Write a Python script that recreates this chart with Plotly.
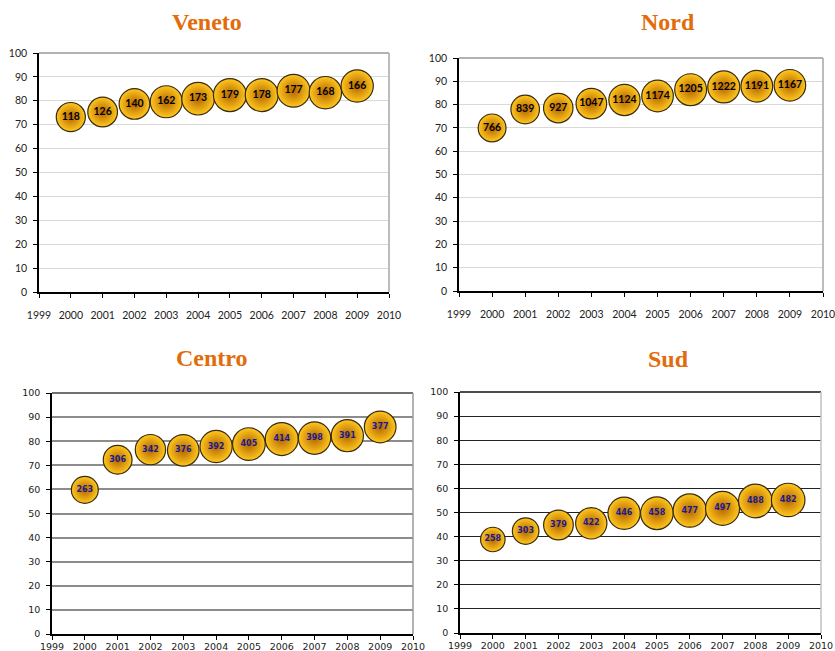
import plotly.graph_objects as go

# Years on the x axis (shared by all four panels)
years = [2000, 2001, 2002, 2003, 2004, 2005, 2006, 2007, 2008, 2009]

# Percentage values (bubble position) and counts (bubble size / label) per area
veneto_pct = [73.2, 75.3, 78.7, 79.6, 80.9, 82.4, 82.4, 84.2, 83.4, 86.2]
veneto_n = [118, 126, 140, 162, 173, 179, 178, 177, 168, 166]

nord_pct = [70.0, 77.9, 78.5, 80.4, 82.0, 83.7, 86.4, 87.6, 87.9, 88.3]
nord_n = [766, 839, 927, 1047, 1124, 1174, 1205, 1222, 1191, 1167]

centro_pct = [59.8, 72.3, 76.5, 76.2, 77.8, 78.8, 80.9, 81.3, 82.3, 85.9]
centro_n = [263, 306, 342, 376, 392, 405, 414, 398, 391, 377]

sud_pct = [38.8, 42.3, 44.8, 45.5, 49.7, 49.7, 50.8, 51.7, 54.8, 55.2]
sud_n = [258, 303, 379, 422, 446, 458, 477, 497, 488, 482]

W, H = 835, 651
TITLE_COLOR = "#E36C0A"

# name, pct, counts, plot box in px (left, right, top, bottom), style, title pos
panels = [
    dict(name="Veneto", pct=veneto_pct, n=veneto_n, box=(39, 389, 53, 292),
         style="light", title=(207, 22), dmax=33, power=0.3),
    dict(name="Nord", pct=nord_pct, n=nord_n, box=(459, 823, 58, 291),
         style="light", title=(668, 22), dmax=32, power=0.3),
    dict(name="Centro", pct=centro_pct, n=centro_n, box=(52, 413, 393, 634),
         style="dark", title=(212, 358), dmax=33, power=0.45),
    dict(name="Sud", pct=sud_pct, n=sud_n, box=(460, 821, 392, 633),
         style="black", title=(668, 359), dmax=34, power=0.5),
]

fig = go.Figure()
layout = dict(
    width=W, height=H,
    margin=dict(l=0, r=0, t=0, b=0, autoexpand=False),
    paper_bgcolor="white", plot_bgcolor="white",
    showlegend=False,
)
shapes = []
annotations = []

for i, p in enumerate(panels):
    k = "" if i == 0 else str(i + 1)
    xa, ya = "x" + k, "y" + k
    left, right, top, bottom = p["box"]

    light = p["style"] == "light"
    tick_font = dict(family="Lato, Liberation Sans, sans-serif", size=10.5, color="#222") if light \
        else dict(family="DejaVu Sans, Verdana, sans-serif", size=9.5, color="#222")
    label_font = dict(family="Lato, Liberation Sans, sans-serif", size=10.5, color="black", weight="bold") if light \
        else dict(family="DejaVu Sans, Verdana, sans-serif", size=8, color="#1c1c8c", weight="bold")
    grid_color = {"light": "#d9d9d9", "dark": "#8c8c8c", "black": "#222222"}[p["style"]]
    grid_width = {"light": 1, "dark": 2, "black": 1}[p["style"]]
    top_color = {"light": "#9a9a9a", "dark": "#404040", "black": "#111111"}[p["style"]]
    right_color = {"light": "#a6a6a6", "dark": "#9a9a9a", "black": "#c0c0c0"}[p["style"]]

    nmax = max(p["n"])
    sizes = [p["dmax"] * (v / nmax) ** p["power"] for v in p["n"]]

    fig.add_trace(go.Scatter(
        x=years, y=p["pct"], xaxis=xa, yaxis=ya,
        mode="markers+text",
        text=[str(v) for v in p["n"]],
        textposition="middle center",
        textfont=label_font,
        marker=dict(
            size=sizes, sizemode="diameter",
            color="#FFC81E",
            gradient=dict(type="radial", color="#B46400"),
            line=dict(color="#3a2a10", width=1.2),
            opacity=1,
        ),
        cliponaxis=False,
        hoverinfo="skip",
    ))

    layout["xaxis" + k] = dict(
        domain=[left / W, right / W], anchor=ya,
        range=[1999, 2010], dtick=1, tick0=1999,
        showgrid=False, zeroline=False,
        showline=True, linecolor="black", linewidth=1.5,
        ticks="outside", ticklen=4, tickcolor="black",
        tickfont=tick_font,
        ticklabelstandoff=9 if light else -1,
        ticklabeloverflow="allow",
        automargin=False,
        fixedrange=True,
    )
    layout["yaxis" + k] = dict(
        domain=[1 - bottom / H, 1 - top / H], anchor=xa,
        range=[0, 100], dtick=10, tick0=0,
        showgrid=True, gridcolor=grid_color, gridwidth=grid_width,
        zeroline=False,
        showline=True, linecolor="black", linewidth=1.5,
        ticks="outside", ticklen=4, tickcolor="black",
        tickfont=tick_font,
        ticklabelstandoff=4,
        ticklabeloverflow="allow",
        automargin=False,
        fixedrange=True,
    )

    # top and right frame edges of the plot area
    shapes.append(dict(type="line", xref=xa + " domain", yref=ya + " domain",
                       x0=0, x1=1, y0=1, y1=1, line=dict(color=top_color, width=1.5)))
    shapes.append(dict(type="line", xref=xa + " domain", yref=ya + " domain",
                       x0=1, x1=1, y0=0, y1=1, line=dict(color=right_color, width=1.5)))

    tx, ty = p["title"]
    annotations.append(dict(
        text="<b>%s</b>" % p["name"], x=tx / W, y=1 - ty / H,
        xref="paper", yref="paper", xanchor="center", yanchor="middle",
        showarrow=False,
        font=dict(family="Liberation Serif, Times New Roman, serif", size=24, color=TITLE_COLOR),
    ))

layout["shapes"] = shapes
layout["annotations"] = annotations
fig.update_layout(**layout)

fig.write_html("out.html")
